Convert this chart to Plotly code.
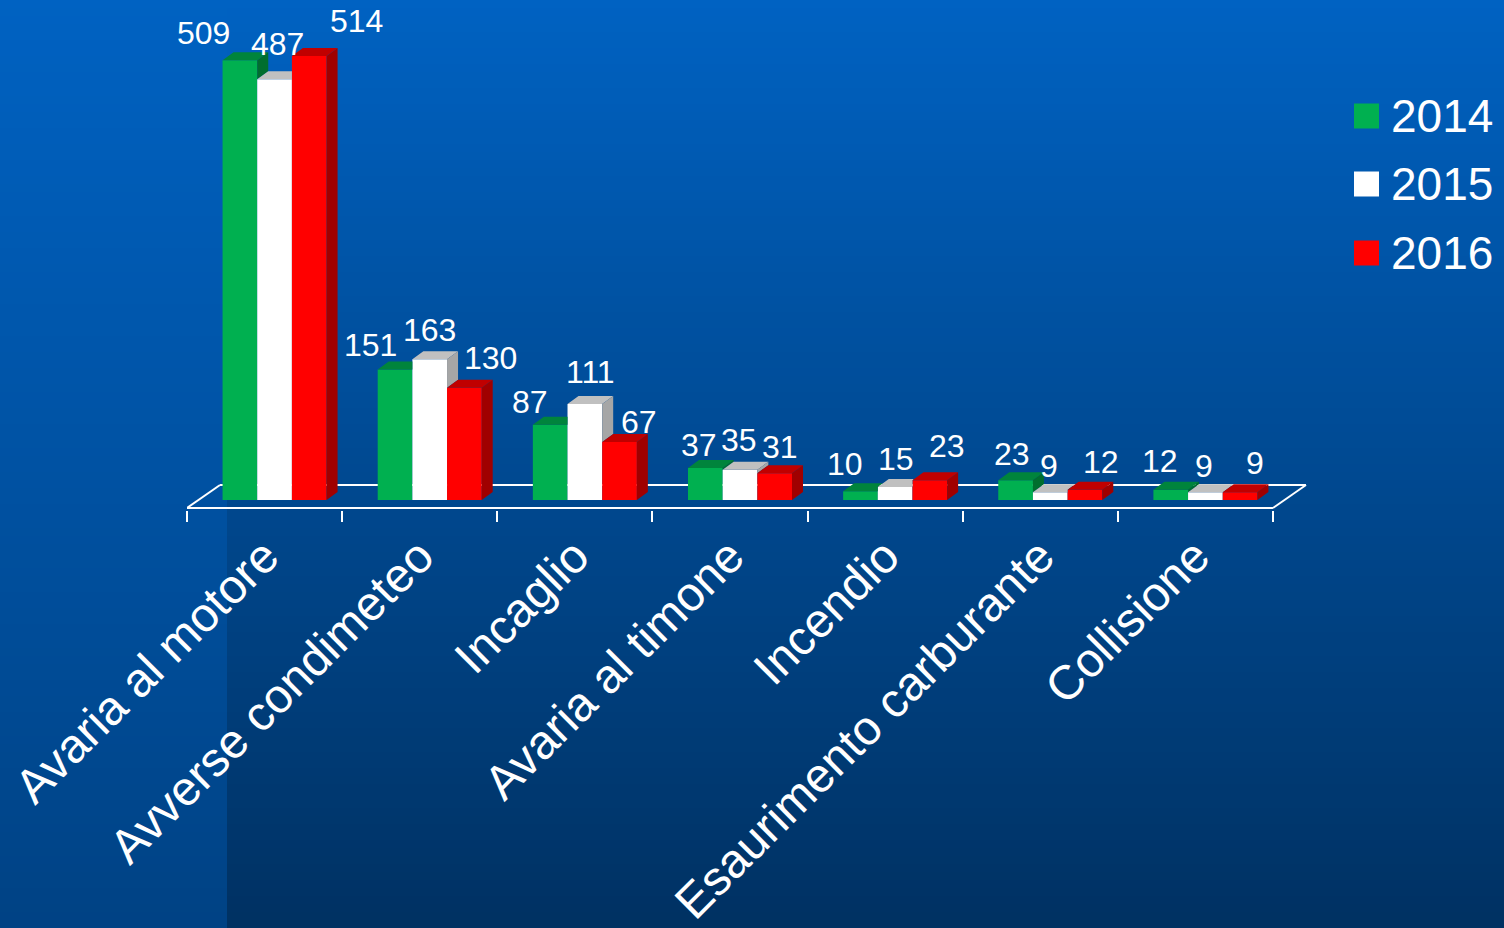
import plotly.graph_objects as go

# ---------------- data ----------------
categories = ["Avaria al motore", "Avverse condimeteo", "Incaglio", "Avaria al timone",
              "Incendio", "Esaurimento carburante", "Collisione"]
years = ["2014", "2015", "2016"]
v2014 = [509, 151, 87, 37, 10, 23, 12]
v2015 = [487, 163, 111, 35, 15, 9, 9]
v2016 = [514, 130, 67, 31, 23, 12, 9]
series = [v2014, v2015, v2016]

# ---------------- styles ----------------
front_colors = ["#00B050", "#FFFFFF", "#FF0000"]
top_colors = ["#00843C", "#C0C0C0", "#C00000"]
side_colors = ["#006E2E", "#A6A6A6", "#A00000"]

# label nudges (pixels) per series / category
label_dx = [[-36, -25, -20, -6, -15, -4, -11],
            [3, 0, 6, -1, 1, -1, -1],
            [47, 26, 19, 5, 17, 16, 15]]
label_dy = [[27, 25, 23, 23, 27, 26, 29],
            [35, 29, 32, 30, 28, 26, 26],
            [35, 30, 20, 26, 34, 28, 29]]

W, H = 1504, 928
PX_X = 155.14          # pixels per category
PX_Y = 0.864           # pixels per value unit
X0_PIX = 187           # pixel of left floor edge
ZERO_PIX = 500         # pixel row of value 0
BOTTOM_PIX = 509.5     # bottom of plot area
bar_w = 34.67 / PX_X
group_shift = 10 / PX_X
ddx = 11 / PX_X
ddy = 8 / PX_Y
floor_y = -(508 - ZERO_PIX) / PX_Y
floor_dx = 33 / PX_X
floor_dy = 23 / PX_Y

x_range = [-0.5, 6.75]
y_range = [-(BOTTOM_PIX - ZERO_PIX) / PX_Y, ZERO_PIX / PX_Y]

FONT = "Liberation Sans, Arial, sans-serif"

fig = go.Figure()

n = len(categories)
centers = []
for s, vals in enumerate(series):
    xs = [i + group_shift + (s - 1) * bar_w for i in range(n)]
    centers.append(xs)
    fig.add_trace(go.Bar(x=xs, y=vals, width=bar_w, name=years[s],
                         marker=dict(color=front_colors[s], line=dict(width=0)),
                         showlegend=False, hoverinfo="name+y"))

# 3-D tops and sides, computed from values
for s, vals in enumerate(series):
    nxt = series[s + 1] if s + 1 < len(series) else [0] * n
    tx, ty, sx, sy = [], [], [], []
    for i, v in enumerate(vals):
        xl = centers[s][i] - bar_w / 2
        xr = centers[s][i] + bar_w / 2
        vn = nxt[i]
        m = min(max(vn, v), v + ddy)
        tx += [xl, xr, xr, xr + (v + ddy - m) / ddy * ddx, xl + ddx, xl, None]
        ty += [v, v, m, v + ddy, v + ddy, v, None]
        base = max(vn, 0)
        if v > base:
            sx += [xr, xr, xr + ddx, xr + ddx, xr, None]
            sy += [base, v, v + ddy, base + ddy, base, None]
    fig.add_trace(go.Scatter(x=tx, y=ty, mode="lines", fill="toself",
                             fillcolor=top_colors[s], line=dict(width=0),
                             showlegend=False, hoverinfo="skip"))
    if sx:
        fig.add_trace(go.Scatter(x=sx, y=sy, mode="lines", fill="toself",
                                 fillcolor=side_colors[s], line=dict(width=0),
                                 showlegend=False, hoverinfo="skip"))

# data labels
annotations = []
for s, vals in enumerate(series):
    for i, v in enumerate(vals):
        annotations.append(dict(x=centers[s][i], y=v, xref="x", yref="y", text=str(v),
                                showarrow=False, xanchor="center", yanchor="middle",
                                xshift=label_dx[s][i], yshift=label_dy[s][i],
                                font=dict(family=FONT, size=32, color="white")))

# manual legend
shapes = []
leg_y = [116, 184, 253]
for s in range(3):
    yc = leg_y[s]
    shapes.append(dict(type="rect", xref="paper", yref="paper",
                       x0=1354 / W, x1=1379 / W, y0=1 - (yc + 12.5) / H, y1=1 - (yc - 12.5) / H,
                       fillcolor=front_colors[s], line=dict(width=0), layer="above"))
    annotations.append(dict(x=1389 / W, y=1 - yc / H, xref="paper", yref="paper", text=years[s],
                            showarrow=False, xanchor="left", yanchor="middle",
                            font=dict(family=FONT, size=46, color="white")))

# background gradient bands
def lerp(a, b, t):
    return tuple(int(round(a[k] + (b[k] - a[k]) * t)) for k in range(3))

top_c = (0, 98, 194)
bot_c = (0, 49, 98)
strip_bot = (0, 66, 132)
band = 8
nb = H // band
for j in range(nb):
    t = (j + 0.5) / nb
    c = lerp(top_c, bot_c, t)
    shapes.append(dict(type="rect", xref="paper", yref="paper", x0=0, x1=1,
                       y0=1 - (j + 1) * band / H, y1=1 - j * band / H,
                       fillcolor="rgb(%d,%d,%d)" % c, line=dict(width=0), layer="below"))
    c2 = lerp(top_c, strip_bot, t)
    shapes.append(dict(type="rect", xref="paper", yref="paper", x0=0, x1=227 / W,
                       y0=1 - (j + 1) * band / H, y1=1 - j * band / H,
                       fillcolor="rgb(%d,%d,%d)" % c2, line=dict(width=0), layer="below"))

# floor outline
fl = dict(color="white", width=2)
shapes += [
    dict(type="line", xref="x", yref="y", x0=-0.5, x1=6.5, y0=floor_y, y1=floor_y, line=fl, layer="below"),
    dict(type="line", xref="x", yref="y", x0=-0.5 + floor_dx, x1=6.5 + floor_dx,
         y0=floor_y + floor_dy, y1=floor_y + floor_dy, line=fl, layer="below"),
    dict(type="line", xref="x", yref="y", x0=-0.5, x1=-0.5 + floor_dx,
         y0=floor_y, y1=floor_y + floor_dy, line=fl, layer="below"),
    dict(type="line", xref="x", yref="y", x0=6.5, x1=6.5 + floor_dx,
         y0=floor_y, y1=floor_y + floor_dy, line=fl, layer="below"),
]

fig.update_layout(
    width=W, height=H,
    margin=dict(l=0, r=0, t=0, b=0),
    paper_bgcolor="rgb(0,70,140)",
    plot_bgcolor="rgba(0,0,0,0)",
    barmode="overlay",
    showlegend=False,
    shapes=shapes,
    annotations=annotations,
    xaxis=dict(domain=[X0_PIX / W, (X0_PIX + (x_range[1] - x_range[0]) * PX_X) / W],
               range=x_range, tickmode="array", tickvals=list(range(n)), ticktext=categories,
               tickangle=-45, ticks="", showgrid=False, zeroline=False, showline=False,
               automargin=False, fixedrange=True, ticklabelstandoff=8,
               tickfont=dict(family=FONT, size=48, color="white"),
               minor=dict(tickmode="array", tickvals=[i - 0.5 for i in range(n + 1)],
                          ticks="outside", ticklen=11, tickwidth=2, tickcolor="white",
                          showgrid=False)),
    yaxis=dict(domain=[(H - BOTTOM_PIX) / H, 1], range=y_range, visible=False,
               fixedrange=True, automargin=False),
)

fig.write_html("out.html", config={"displayModeBar": False},
               post_script="document.body.style.margin='0';document.body.style.overflow='hidden';")
